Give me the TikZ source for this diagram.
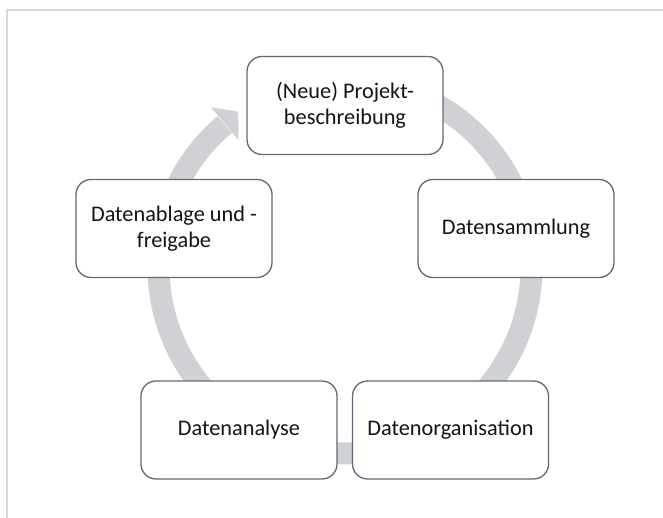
\documentclass[tikz,border=0pt]{standalone}
\usepackage{fontspec}
\setmainfont{Carlito}
\begin{document}
\begin{tikzpicture}[x=1pt,y=1pt,
  boxstyle/.style={draw=boxcol, line width=1.3pt, fill=white, rounded corners=15pt,
    minimum width=196pt, minimum height=98pt, align=center, inner sep=0pt,
    font=\fontsize{22.3pt}{26pt}\selectfont, text=black!92},
  ringline/.style={draw=ringcol, line width=22pt, line cap=butt},
  framestyle/.style={draw=framecol, line width=2pt}]
\definecolor{boxcol}{RGB}{95,105,120}
\definecolor{ringcol}{RGB}{208,209,213}
\definecolor{framecol}{RGB}{217,217,217}
\useasboundingbox (0,0) rectangle (663,518);
% frame
\coordinate (f1) at (6.5,0);
\coordinate (f2) at (6.5,508);
\coordinate (f3) at (663,508);
\draw[framestyle] (f1) -- (f2) -- (f3);
% ring
\coordinate (C) at (345,251);
\draw[ringline] ([shift={(C)}]130.2:186.5) arc[start angle=130.2, end angle=435, radius=186.5];
\fill[ringcol] ([shift={(C)}]130:208.5) -- ([shift={(C)}]124.5:188.5) -- ([shift={(C)}]130:166) -- cycle;
% boxes
\node[boxstyle] (top) at (345,412.5) {(Neue) Projekt-\\beschreibung};
\node[boxstyle] (right) at (516,289.5) {Datensammlung};
\node[boxstyle] (botr) at (450.5,88) {Datenorganisation};
\node[boxstyle] (botl) at (239,88) {Datenanalyse};
\node[boxstyle] (left) at (174,289.5) {Datenablage und -\\freigabe};
\end{tikzpicture}
\end{document}
